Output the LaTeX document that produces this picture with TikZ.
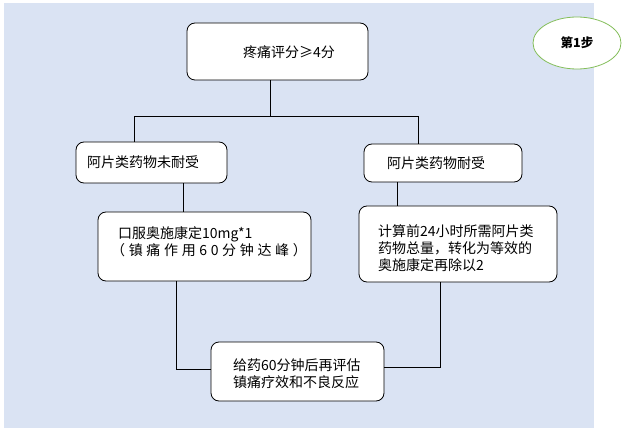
\documentclass[tikz,border=0pt]{standalone}
\usepackage{fontspec}
\setmainfont{Noto Sans CJK SC}
\newfontfamily\spacedcjk[LetterSpace=26]{Noto Sans CJK SC}
\usetikzlibrary{shapes.geometric}
\definecolor{bgblue}{RGB}{218,227,243}
\definecolor{stepgreen}{RGB}{132,190,90}
\tikzset{
  box/.style={draw=black, line width=0.8pt, rounded corners=8pt, fill=white, inner sep=0pt},
  txt/.style={anchor=west, align=left, inner sep=0pt, font=\fontsize{14}{17}\selectfont},
  conn/.style={draw=black, line width=0.8pt}
}
\begin{document}
\begin{tikzpicture}[x=1pt,y=-1pt]
\useasboundingbox (0,0) rectangle (623,430);
\fill[bgblue] (4,3) rectangle (594,428);

% boxes
\node[box, minimum width=181pt, minimum height=57pt] (top) at (277.5,51.5) {};
\node[txt] (topT) at (243,52) {疼痛评分≥4分};

\node[box, minimum width=151pt, minimum height=41pt] (L) at (151.5,162.5) {};
\node[txt] (LT) at (87,162) {阿片类药物未耐受};

\node[box, minimum width=158pt, minimum height=38pt] (R) at (443,163) {};
\node[txt] (RT) at (387,163) {阿片类药物耐受};

\node[box, minimum width=213pt, minimum height=69pt] (ML) at (204.5,246.5) {};
\node[txt] (MLT) at (118,241.5) {口服奥施康定10mg*1\\\hspace*{-7pt}{\spacedcjk（镇痛作用60分钟达峰）}};

\node[box, minimum width=198pt, minimum height=76pt] (MR) at (458,244) {};
\node[txt] (MRT) at (378,248) {计算前24小时所需阿片类\\药物总量，转化为等效的\\奥施康定再除以2};

\node[box, minimum width=173pt, minimum height=59pt] (B) at (297.5,371.5) {};
\node[txt] (BT) at (233,373.5) {给药60分钟后再评估\\镇痛疗效和不良反应};

% step ellipse
\node[ellipse, draw=stepgreen, line width=0.8pt, fill=white, minimum width=88pt, minimum height=52pt, font=\fontsize{12.5}{15}\selectfont\bfseries] (step1) at (577,43) {第1步};

% connectors
\coordinate (jT) at (270,116);
\coordinate (jL) at (134,116);
\coordinate (jR) at (418,116);
\draw[conn] (jT |- top.south) -- (jT);
\draw[conn] (jL |- L.north) -- (jL) -- (jR) -- (jR |- R.north);

\coordinate (cL) at (183,200);
\draw[conn] (cL |- L.south) -- (cL |- ML.north);
\coordinate (cR) at (397,200);
\draw[conn] (cR |- R.south) -- (cR |- MR.north);

\coordinate (cB) at (176,369);
\draw[conn] (cB |- ML.south) -- (cB) -- (cB -| B.west);
\coordinate (cC) at (440,367);
\draw[conn] (cC -| B.east) -- (cC) -- (cC |- MR.south);
\end{tikzpicture}
\end{document}
